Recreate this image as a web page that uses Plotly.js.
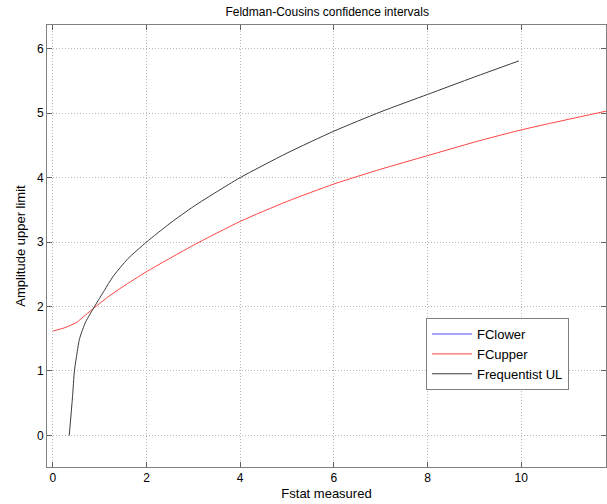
<!DOCTYPE html>
<html>
<head>
<meta charset="utf-8">
<script src="https://cdn.plot.ly/plotly-3.0.1.min.js"></script>
<style>html,body{margin:0;padding:0;background:#fff;}#chart{width:607px;height:504px;}</style>
</head>
<body>
<div id="chart"></div>
<script>
// Frequentist upper limit (black)
const ulX = [0.35, 0.42, 0.46, 0.5, 0.57, 0.7, 0.89, 1.1, 1.28, 1.6, 2.0, 2.5, 3.0, 3.5, 4.0, 5.0, 6.0, 7.0, 8.0, 9.0, 9.95];
const ulY = [0, 0.6, 1.0, 1.2, 1.5, 1.76, 2.0, 2.25, 2.46, 2.74, 3.0, 3.29, 3.55, 3.78, 4.0, 4.38, 4.72, 5.02, 5.29, 5.56, 5.81];
// Feldman-Cousins upper (red)
const fcUpX = [0, 0.25, 0.5, 0.7, 0.9, 1.2, 1.5, 2.0, 3.0, 4.0, 5.0, 6.0, 7.0, 8.0, 9.0, 10.0, 11.81];
const fcUpY = [1.62, 1.67, 1.75, 1.87, 1.99, 2.16, 2.31, 2.54, 2.95, 3.32, 3.63, 3.9, 4.13, 4.34, 4.55, 4.74, 5.03];
// Feldman-Cousins lower (blue) - not visible in the plotted range
const fcLowX = [null];
const fcLowY = [null];
const xTicks = [0, 2, 4, 6, 8, 10];
const yTicks = [0, 1, 2, 3, 4, 5, 6];

const font = {family: 'Liberation Sans, Arial, sans-serif', size: 12, color: '#000'};

const traces = [
  {x: fcLowX, y: fcLowY, name: 'FClower', mode: 'lines', line: {color: '#4a4aff', width: 1}},
  {x: fcUpX, y: fcUpY, name: 'FCupper', mode: 'lines', line: {color: '#ff4545', width: 1, shape: 'spline', smoothing: 0.6}},
  {x: ulX, y: ulY, name: 'Frequentist UL', mode: 'lines', line: {color: '#3a3a3a', width: 1, shape: 'spline', smoothing: 0.6}}
];

const axisCommon = {
  showgrid: true, gridcolor: '#b8b8b8', griddash: '1px,2px', gridwidth: 1,
  zeroline: false, showline: true, linecolor: '#808080', linewidth: 1, mirror: 'ticks',
  ticks: 'inside', ticklen: 5, tickcolor: '#606060', tickfont: font
};

const layout = {
  width: 607, height: 504,
  margin: {l: 47, r: 1, t: 25, b: 37},
  paper_bgcolor: '#fff', plot_bgcolor: '#fff',
  font: font,
  title: {text: 'Feldman-Cousins confidence intervals', font: {family: font.family, size: 12, color: '#000'}, x: 0.539, xanchor: 'center', y: 0.985, yanchor: 'top'},
  xaxis: Object.assign({}, axisCommon, {range: [-0.125, 11.81], tickvals: xTicks, ticktext: xTicks.map(String),
    title: {text: 'Fstat measured', font: {family: font.family, size: 13, color: '#000'}, standoff: 4}}),
  yaxis: Object.assign({}, axisCommon, {range: [-0.49, 6.367], tickvals: yTicks, ticktext: yTicks.map(String),
    title: {text: 'Amplitude upper limit', font: {family: font.family, size: 13, color: '#000'}, standoff: 8}}),
  showlegend: true,
  legend: {x: 0.678, y: 0.337, xanchor: 'left', yanchor: 'top', bgcolor: '#fff', bordercolor: '#808080', borderwidth: 1,
    font: {family: font.family, size: 13, color: '#000'}, tracegroupgap: 0, itemwidth: 40}
};

Plotly.newPlot('chart', traces, layout, {displayModeBar: false, staticPlot: true});
</script>
</body>
</html>
